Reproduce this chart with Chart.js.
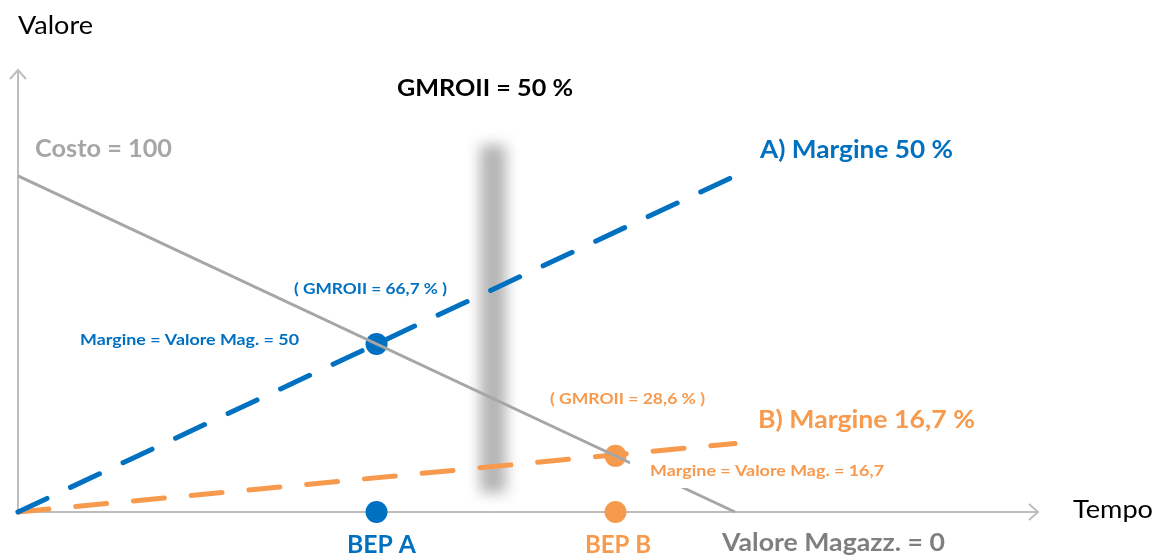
<!DOCTYPE html>
<html>
<head>
<meta charset="utf-8">
<title>GMROII</title>
<script src="https://cdn.jsdelivr.net/npm/chart.js@4.4.1/dist/chart.umd.min.js"></script>
<style>
    html, body { margin: 0; padding: 0; background: #fff; }
    #wrap { width: 1155px; height: 556px; }
</style>
</head>
<body>
<div id="wrap"><canvas id="chart" width="1155" height="556"></canvas></div>
<script>
// tempo agli estremi delle rette
const tempo = [0, 12];
const costo = [100, 0];
const margineA = [0, 100];
const margineB = [0, 20.4];

// punti di pareggio (BEP)
const bepTempo = [6, 10];
const bepValore = [50, 16.7];

// barra grigia (tempo, valore da / a)
const barraTempo = 7.95;
const barraValore = [4.5, 110.4];

const BLUE = '#0070c0';
const ORANGE = '#f79a4e';
const GREY = '#a6a6a6';

const notes = [
    { text: 'Valore', x: 18, y: 34, size: 25, bold: false, color: '#000', w: 75 },
    { text: 'Tempo', x: 1073, y: 518, size: 25, bold: false, color: '#000', w: 80 },
    { text: 'GMROII = 50 %', x: 397, y: 96, size: 22, bold: true, color: '#000', w: 176 },
    { text: 'Costo = 100', x: 35, y: 157, size: 24, bold: true, color: GREY, w: 137 },
    { text: 'A) Margine 50 %', x: 760, y: 158, size: 24, bold: true, color: BLUE, w: 193 },
    { text: '( GMROII = 66,7 % )', x: 294, y: 294, size: 15, bold: true, color: BLUE, w: 153 },
    { text: 'Margine = Valore Mag. = 50', x: 80, y: 345, size: 15, bold: true, color: BLUE, w: 219 },
    { text: '( GMROII = 28,6 % )', x: 550, y: 404, size: 15, bold: true, color: ORANGE, w: 155 },
    { text: 'B) Margine 16,7 %', x: 758, y: 428, size: 24, bold: true, color: ORANGE, w: 217 },
    { text: 'Margine = Valore Mag. = 16,7', x: 650, y: 476, size: 15, bold: true, color: ORANGE, w: 234, bg: [630, 461, 262, 27] },
    { text: 'BEP A', x: 347, y: 553, size: 24, bold: true, color: BLUE, w: 69 },
    { text: 'BEP B', x: 585, y: 553, size: 24, bold: true, color: ORANGE, w: 66 },
    { text: 'Valore Magazz. = 0', x: 722, y: 551, size: 24, bold: true, color: '#7f7f7f', w: 223 }
];

function toPoints(xs, ys) {
    return xs.map((x, i) => ({ x: x, y: ys[i] }));
}

const barraPlugin = {
    id: 'barra',
    beforeDatasetsDraw(chart) {
        const ctx = chart.ctx;
        const xs = chart.scales.x, ys = chart.scales.y;
        const cx = xs.getPixelForValue(barraTempo);
        const top = ys.getPixelForValue(barraValore[1]);
        const bottom = ys.getPixelForValue(barraValore[0]);
        ctx.save();
        ctx.filter = 'blur(7px)';
        ctx.fillStyle = '#b4b4b4';
        ctx.fillRect(cx - 13, top + 4, 26, bottom - top - 8);
        ctx.restore();

        // assi con freccia
        const a = chart.chartArea;
        ctx.save();
        ctx.strokeStyle = '#bdbdbd';
        ctx.lineWidth = 2;
        ctx.beginPath();
        ctx.moveTo(a.left, a.bottom);
        ctx.lineTo(a.right, a.bottom);
        ctx.moveTo(a.right - 9, a.bottom - 8);
        ctx.lineTo(a.right, a.bottom);
        ctx.lineTo(a.right - 9, a.bottom + 8);
        ctx.moveTo(a.left, a.bottom);
        ctx.lineTo(a.left, a.top);
        ctx.moveTo(a.left - 8, a.top + 9);
        ctx.lineTo(a.left, a.top);
        ctx.lineTo(a.left + 8, a.top + 9);
        ctx.stroke();
        ctx.restore();
    }
};

const notePlugin = {
    id: 'notes',
    afterDatasetsDraw(chart) {
        const ctx = chart.ctx;
        notes.forEach(n => {
            ctx.save();
            if (n.bg) {
                ctx.fillStyle = '#fff';
                ctx.fillRect(n.bg[0], n.bg[1], n.bg[2], n.bg[3]);
            }
            ctx.font = (n.bold ? 'bold ' : '') + n.size + 'px Lato';
            ctx.fillStyle = n.color;
            ctx.textBaseline = 'alphabetic';
            const w = ctx.measureText(n.text).width;
            ctx.translate(n.x, n.y);
            ctx.scale(n.w / w, 1);
            ctx.fillText(n.text, 0, 0);
            ctx.restore();
        });
    }
};

new Chart(document.getElementById('chart'), {
    type: 'scatter',
    data: {
        datasets: [
            {
                label: 'Costo',
                data: toPoints(tempo, costo),
                showLine: true,
                borderColor: GREY,
                borderWidth: 3,
                pointRadius: 0,
                clip: false
            },
            {
                label: 'A) Margine 50 %',
                data: toPoints(tempo, margineA),
                showLine: true,
                borderColor: BLUE,
                borderWidth: 5,
                borderDash: [32, 26],
                borderCapStyle: 'round',
                pointRadius: 0,
                clip: false
            },
            {
                label: 'B) Margine 16,7 %',
                data: toPoints(tempo, margineB),
                showLine: true,
                borderColor: ORANGE,
                borderWidth: 5,
                borderDash: [31, 27],
                borderCapStyle: 'round',
                pointRadius: 0,
                clip: false
            },
            {
                label: 'BEP',
                data: toPoints(bepTempo, bepValore),
                backgroundColor: [BLUE, ORANGE],
                borderWidth: 0,
                pointRadius: 11,
                clip: false
            },
            {
                label: 'BEP asse',
                data: toPoints(bepTempo, [0, 0]),
                backgroundColor: [BLUE, ORANGE],
                borderWidth: 0,
                pointRadius: 11,
                clip: false
            }
        ]
    },
    options: {
        responsive: false,
        animation: false,
        devicePixelRatio: 1,
        layout: { padding: { left: 18, top: 70, right: 117, bottom: 44 } },
        scales: {
            x: { type: 'linear', display: false, min: 0, max: 17.07 },
            y: { type: 'linear', display: false, min: 0, max: 131.5 }
        },
        plugins: {
            legend: { display: false },
            tooltip: { enabled: false }
        }
    },
    plugins: [barraPlugin, notePlugin]
});
</script>
</body>
</html>
